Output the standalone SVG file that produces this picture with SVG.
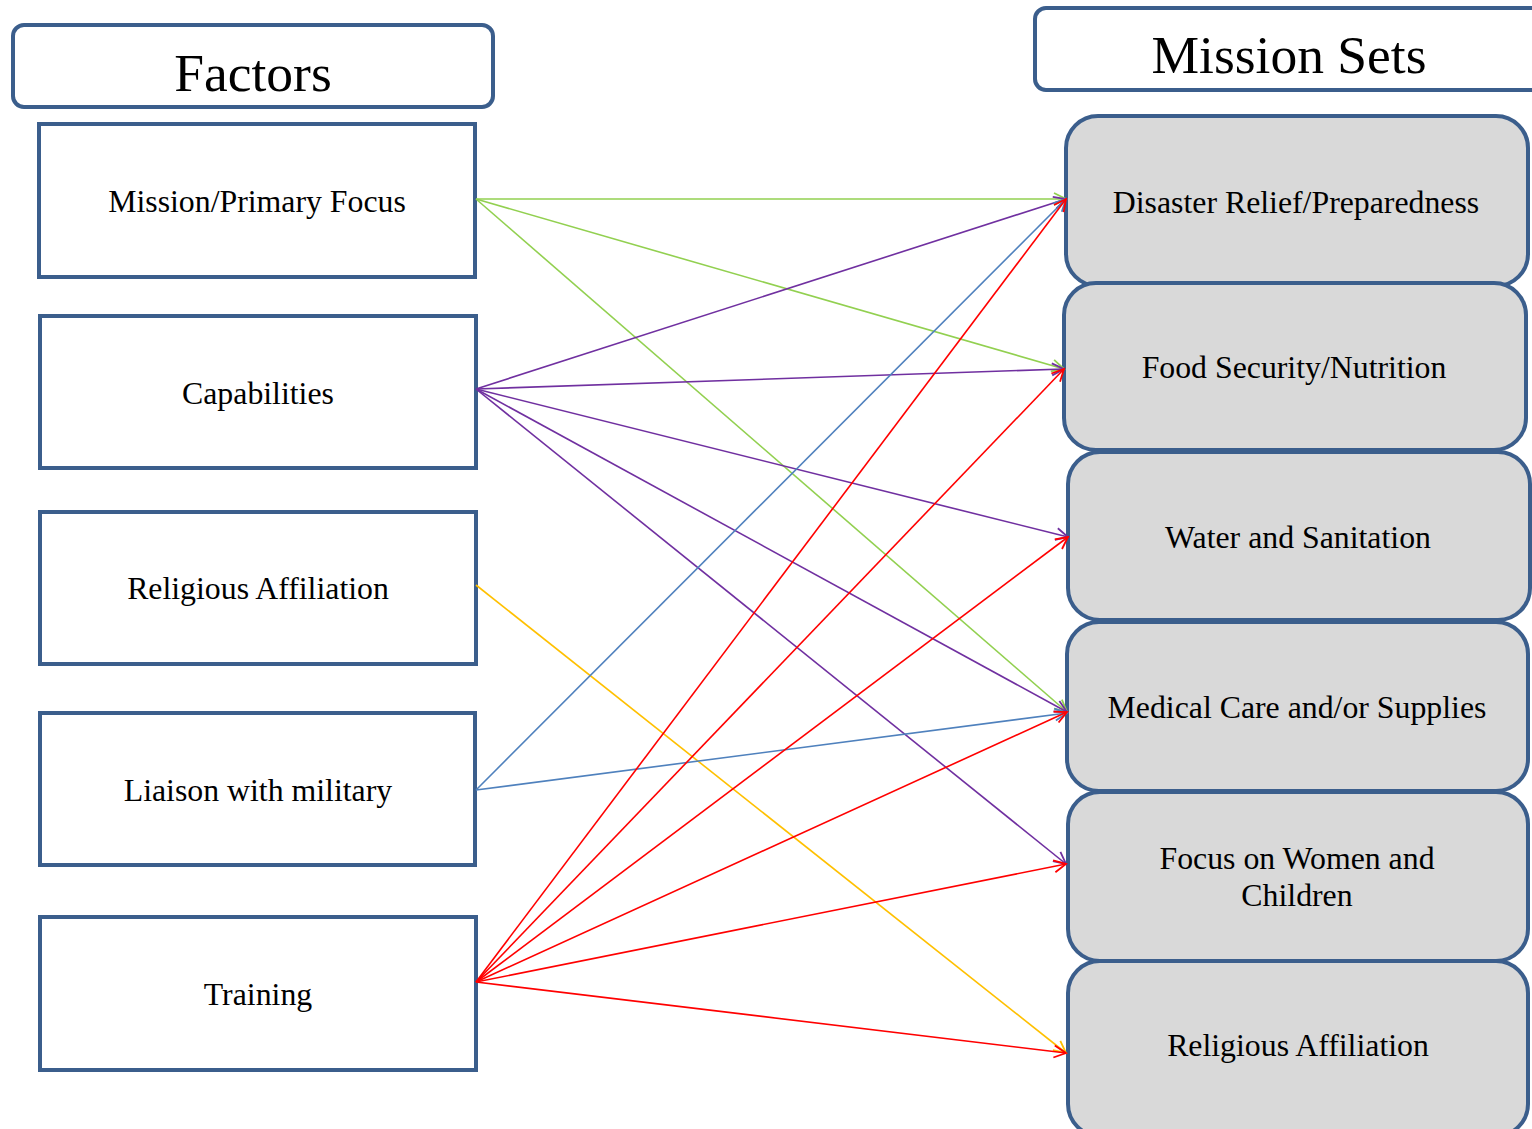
<svg xmlns="http://www.w3.org/2000/svg" width="1532" height="1129" viewBox="0 0 1532 1129">
<style>
.hdr{fill:#fff;stroke:#3B5E8C;stroke-width:4}
.fac{fill:#fff;stroke:#3B5E8C;stroke-width:4}
.ms{fill:#D9D9D9;stroke:#3B5E8C;stroke-width:4}
text{font-family:"Liberation Serif","Times New Roman",serif;fill:#000;text-anchor:middle}
.ht{font-size:53.5px}
.t{font-size:31.8px}
.c{fill:none;stroke-width:1.6}
.g{stroke:#92D050}.p{stroke:#7030A0}.y{stroke:#FFC000}.b{stroke:#4F81BD}.r{stroke:#FF0000}
</style>
<defs>
<marker id="mg" markerUnits="userSpaceOnUse" markerWidth="16" markerHeight="16" viewBox="0 0 16 16" refX="14" refY="8" orient="auto"><path d="M2,2 L14,8 L2,14" fill="none" stroke="#92D050" stroke-width="1.8"/></marker>
<marker id="mp" markerUnits="userSpaceOnUse" markerWidth="16" markerHeight="16" viewBox="0 0 16 16" refX="14" refY="8" orient="auto"><path d="M2,2 L14,8 L2,14" fill="none" stroke="#7030A0" stroke-width="1.8"/></marker>
<marker id="my" markerUnits="userSpaceOnUse" markerWidth="16" markerHeight="16" viewBox="0 0 16 16" refX="14" refY="8" orient="auto"><path d="M2,2 L14,8 L2,14" fill="none" stroke="#FFC000" stroke-width="1.8"/></marker>
<marker id="mb" markerUnits="userSpaceOnUse" markerWidth="16" markerHeight="16" viewBox="0 0 16 16" refX="14" refY="8" orient="auto"><path d="M2,2 L14,8 L2,14" fill="none" stroke="#4F81BD" stroke-width="1.8"/></marker>
<marker id="mr" markerUnits="userSpaceOnUse" markerWidth="16" markerHeight="16" viewBox="0 0 16 16" refX="14" refY="8" orient="auto"><path d="M2,2 L14,8 L2,14" fill="none" stroke="#FF0000" stroke-width="1.8"/></marker>
</defs>

<g id="header-factors"><rect class="hdr" x="13" y="25" width="480" height="82" rx="11"/><text class="ht" x="253" y="91">Factors</text></g>
<g id="header-mission-sets"><rect class="hdr" x="1035" y="8" width="520" height="82" rx="11"/><text class="ht" x="1289" y="73">Mission Sets</text></g>

<g id="f-mission"><rect class="fac" x="39" y="124" width="436" height="153"/><text class="t" x="257" y="212">Mission/Primary Focus</text></g>
<g id="f-capabilities"><rect class="fac" x="40" y="316" width="436" height="152"/><text class="t" x="258" y="404">Capabilities</text></g>
<g id="f-religious"><rect class="fac" x="40" y="512" width="436" height="152"/><text class="t" x="258" y="599">Religious Affiliation</text></g>
<g id="f-liaison"><rect class="fac" x="40" y="713" width="435" height="152"/><text class="t" x="258" y="801">Liaison with military</text></g>
<g id="f-training"><rect class="fac" x="40" y="917" width="436" height="153"/><text class="t" x="258" y="1005">Training</text></g>

<g id="m-disaster"><rect class="ms" x="1066" y="116" width="462" height="170" rx="32"/><text class="t" x="1296" y="213">Disaster Relief/Preparedness</text></g>
<g id="m-food"><rect class="ms" x="1064" y="283" width="462" height="167" rx="32"/><text class="t" x="1294" y="378">Food Security/Nutrition</text></g>
<g id="m-water"><rect class="ms" x="1068" y="452" width="462" height="168" rx="32"/><text class="t" x="1298" y="548">Water and Sanitation</text></g>
<g id="m-medical"><rect class="ms" x="1067" y="622" width="461" height="169" rx="32"/><text class="t" x="1297" y="718">Medical Care and/or Supplies</text></g>
<g id="m-women"><rect class="ms" x="1068" y="792" width="460" height="169" rx="32"/><text class="t" x="1297" y="869">Focus on Women and</text><text class="t" x="1297" y="906">Children</text></g>
<g id="m-religious"><rect class="ms" x="1068" y="961" width="460" height="175" rx="32"/><text class="t" x="1298" y="1056">Religious Affiliation</text></g>

<g id="connectors">
<line class="c g" x1="476" y1="199" x2="1066" y2="199" marker-end="url(#mg)"/>
<line class="c g" x1="476" y1="199" x2="1064" y2="369" marker-end="url(#mg)"/>
<line class="c g" x1="476" y1="199" x2="1067" y2="712" marker-end="url(#mg)"/>
<line class="c p" x1="476" y1="389" x2="1066" y2="199" marker-end="url(#mp)"/>
<line class="c p" x1="476" y1="389" x2="1064" y2="369" marker-end="url(#mp)"/>
<line class="c p" x1="476" y1="389" x2="1068" y2="537" marker-end="url(#mp)"/>
<line class="c p" x1="476" y1="389" x2="1067" y2="712" marker-end="url(#mp)"/>
<line class="c p" x1="476" y1="389" x2="1066" y2="864" marker-end="url(#mp)"/>
<line class="c y" x1="476" y1="585" x2="1066" y2="1053" marker-end="url(#my)"/>
<line class="c b" x1="476" y1="790" x2="1066" y2="199" marker-end="url(#mb)"/>
<line class="c b" x1="476" y1="790" x2="1067" y2="713" marker-end="url(#mb)"/>
<line class="c r" x1="476" y1="982" x2="1066" y2="199" marker-end="url(#mr)"/>
<line class="c r" x1="476" y1="982" x2="1064" y2="369" marker-end="url(#mr)"/>
<line class="c r" x1="476" y1="982" x2="1068" y2="537" marker-end="url(#mr)"/>
<line class="c r" x1="476" y1="982" x2="1067" y2="712" marker-end="url(#mr)"/>
<line class="c r" x1="476" y1="982" x2="1066" y2="864" marker-end="url(#mr)"/>
<line class="c r" x1="476" y1="982" x2="1066" y2="1053" marker-end="url(#mr)"/>
</g>
</svg>
